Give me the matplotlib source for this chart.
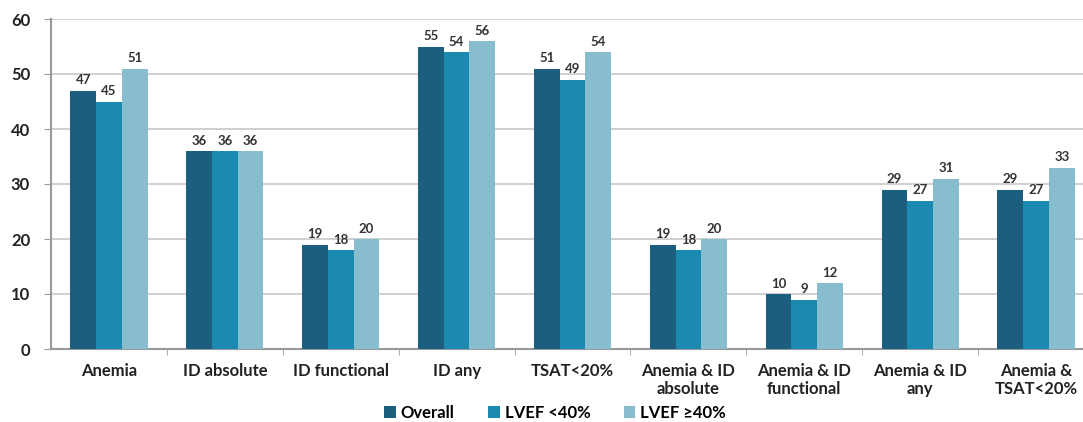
import numpy as np
import matplotlib.pyplot as plt
from matplotlib.ticker import FixedLocator

plt.rcParams['font.family'] = ['Lato', 'DejaVu Sans']

categories = ['Anemia', 'ID absolute', 'ID functional', 'ID any', 'TSAT<20%',
              'Anemia & ID\nabsolute', 'Anemia & ID\nfunctional',
              'Anemia & ID\nany', 'Anemia &\nTSAT<20%']
overall = [47, 36, 19, 55, 51, 19, 10, 29, 29]
lvef_low = [45, 36, 18, 54, 49, 18, 9, 27, 27]
lvef_high = [51, 36, 20, 56, 54, 20, 12, 31, 33]
series_names = ['Overall', 'LVEF <40%', 'LVEF \u226540%']
colors = ['#1b5e7e', '#1b8ab0', '#88bdd0']

fig = plt.figure(figsize=(10.83, 4.22), dpi=100)
ax = fig.add_axes([51 / 1083, 73 / 422, 1043 / 1083, 330 / 422])

x = np.arange(len(categories))
w = 0.222
handles = []
for k, (vals, name, c) in enumerate(zip([overall, lvef_low, lvef_high], series_names, colors)):
    pos = x + (k - 1) * w
    b = ax.bar(pos, vals, w, color=c, label=name, zorder=3)
    handles.append(b)
    for p, v in zip(pos, vals):
        ax.text(p, v + 0.8, str(v), ha='center', va='bottom', fontsize=9.5,
                color='#333333', fontweight='bold')

ax.set_xlim(-0.5, len(categories) - 0.5)
ax.set_ylim(0, 60)
ax.set_yticks(range(0, 61, 10))
ax.yaxis.grid(True, color='#c8c8c8', linewidth=1.2, zorder=0)
ax.set_axisbelow(True)

ax.set_xticks(x)
ax.set_xticklabels(categories, fontsize=12, fontweight='bold', color='#222222',
                   linespacing=1.2)
ax.tick_params(axis='x', length=0, pad=10)
ax.xaxis.set_minor_locator(FixedLocator(np.arange(0.5, len(categories) - 1, 1)))
ax.tick_params(axis='x', which='minor', length=4, color='#999999', direction='out')
ax.tick_params(axis='y', length=5, color='#999999', labelsize=12, pad=10,
               labelcolor='#222222')
for lab in ax.get_yticklabels():
    lab.set_fontweight('bold')

for s in ['top', 'right']:
    ax.spines[s].set_visible(False)
ax.spines['left'].set_color('#999999')
ax.spines['bottom'].set_color('#999999')
ax.spines['left'].set_linewidth(1.5)
ax.spines['bottom'].set_linewidth(1.5)

fig.legend(handles=handles, labels=series_names, loc='center', ncol=3,
           bbox_to_anchor=(555 / 1083, 1 - 413 / 422), frameon=False,
           prop={'size': 12, 'weight': 'bold'}, handlelength=0.7,
           handleheight=0.7, handletextpad=0.3, columnspacing=2.0)

fig.savefig('out.png', dpi=100)
